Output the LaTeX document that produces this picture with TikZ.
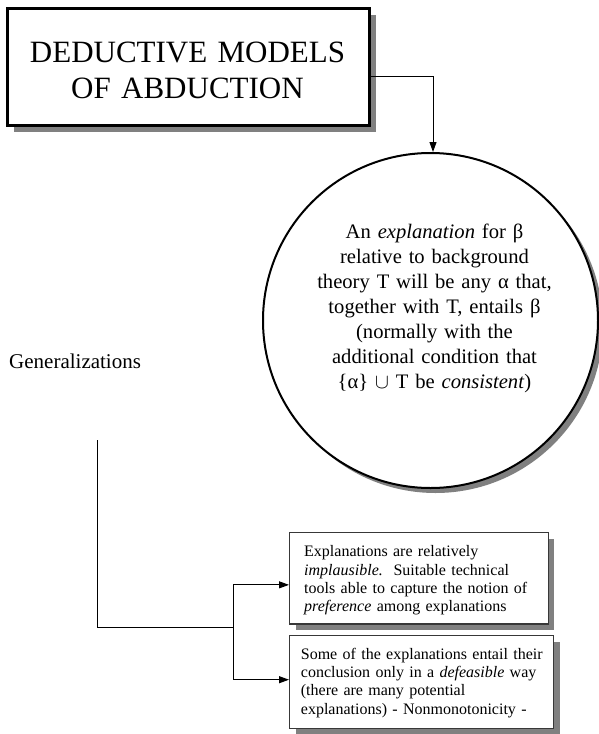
\documentclass[tikz,border=0pt]{standalone}
\usepackage{fontspec}
\setmainfont{Liberation Serif}
\usetikzlibrary{arrows.meta,calc,shadows}
\definecolor{shade}{HTML}{808080}
\definecolor{edge}{HTML}{383838}
\begin{document}
\begin{tikzpicture}[x=1pt,y=-1pt,
  wire/.style={line width=1pt},
  conn/.style={wire,-{Triangle[length=10pt,width=7pt]}},
  shadowed/.style={drop shadow={shadow xshift=6.5pt,shadow yshift=-6.5pt,fill=shade,opacity=1}},
  headbox/.style={rectangle,draw=black,line width=3pt,fill=white,shadowed,inner sep=0,anchor=north west},
  disc/.style={circle,draw=black,line width=2pt,fill=white,inner sep=0,
    drop shadow={shadow xshift=5pt,shadow yshift=-5pt,fill=shade,opacity=1}},
  notebox/.style={rectangle,draw=edge,line width=1.4pt,fill=white,inner sep=0,anchor=north west,
    drop shadow={shadow xshift=6pt,shadow yshift=-6pt,fill=shade,opacity=1}},
  headtext/.style={inner sep=0,anchor=base,align=center,text width=360pt,
    font=\fontsize{31}{36.5}\selectfont},
  circtext/.style={inner sep=0,anchor=base,align=center,text width=300pt,
    font=\fontsize{20.6}{25}\selectfont},
  notetext/.style={inner sep=0,anchor=base west,align=left,text width=250pt,
    font=\fontsize{16}{18.3}\selectfont},
  plaintext/.style={inner sep=0,anchor=base west,font=\fontsize{21}{25}\selectfont},
]
\useasboundingbox (0,0) rectangle (599,734);

% heading box
\node[headbox,minimum width=361.5pt,minimum height=117pt] (title) at (6,7) {};
\node[headtext] (titletext) at (187.5,62) {DEDUCTIVE MODELS\\OF ABDUCTION};

% definition circle
\node[disc,minimum size=335pt] (circ) at (430.5,320.5) {};
\node[circtext] (circtext) at (434.5,238)
  {An \textit{explanation} for β\\
   relative to background\\
   theory T will be any α that,\\
   together with T, entails β\\
   (normally with the\\
   additional condition that\\
   \{α\} $\cup$ T be \textit{consistent})};

% side label
\node[plaintext] (gen) at (9,368) {Generalizations};

% lower note boxes
\node[notebox,minimum width=258.5pt,minimum height=91.3pt] (b1) at (289,532) {};
\node[notetext] (b1text) at (304,556.7)
  {Explanations are relatively\\
   \textit{implausible.}\ \ Suitable technical\\
   tools able to capture the notion of\\
   \textit{preference} among explanations};

\node[notebox,minimum width=264pt,minimum height=93pt] (b2) at (289,635) {};
\node[notetext] (b2text) at (300.7,659.3)
  {Some of the explanations entail their\\
   conclusion only in a \textit{defeasible} way\\
   (there are many potential\\
   explanations) - Nonmonotonicity -};

% connectors
\draw[conn] ([yshift=-9pt]title.east) -| ([xshift=2.5pt]circ.north);

\coordinate (gstart) at (97,440);
\coordinate (fork) at (233,627);
\draw[wire] (gstart) |- (fork);
\draw[conn] (fork) |- ([yshift=-6.5pt]b1.west);
\draw[conn] (fork) |- ([yshift=2.5pt]b2.west);
\end{tikzpicture}
\end{document}
